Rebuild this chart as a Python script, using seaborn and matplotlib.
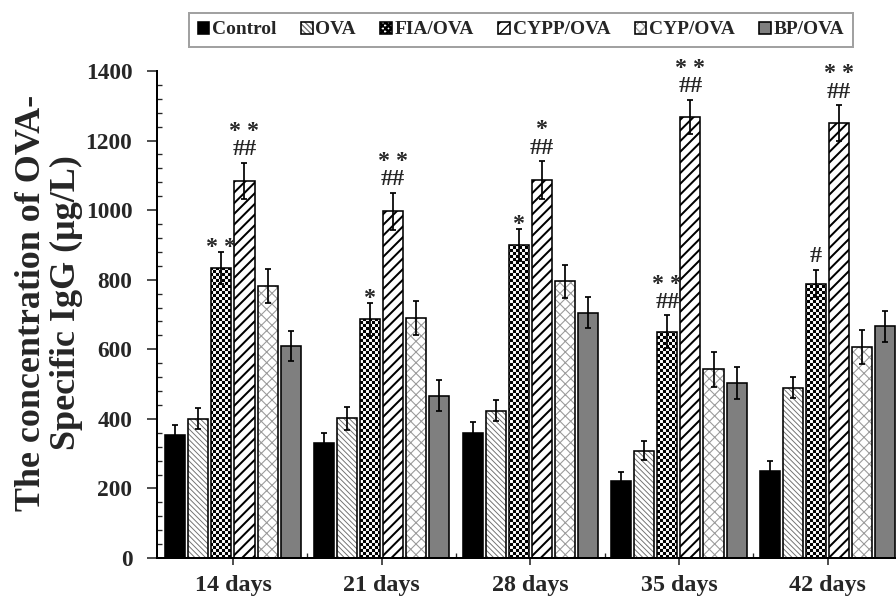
import numpy as np
import pandas as pd
import matplotlib
matplotlib.use("Agg")
import matplotlib.pyplot as plt
import matplotlib.hatch as mhatch
from matplotlib.path import Path
from matplotlib.ticker import MultipleLocator, FixedLocator
import seaborn as sns

# ---------------- data ----------------
days = ["14 days", "21 days", "28 days", "35 days", "42 days"]
groups = ["Control", "OVA", "FIA/OVA", "CYPP/OVA", "CYP/OVA", "BP/OVA"]

control = [355, 330, 360, 220, 250]
control_err = [28, 30, 30, 28, 30]
ova = [401, 402, 424, 309, 490]
ova_err = [30, 33, 30, 28, 30]
fia = [835, 686, 900, 651, 789]
fia_err = [46, 47, 45, 47, 40]
cypp = [1084, 997, 1087, 1268, 1250]
cypp_err = [52, 53, 54, 50, 52]
cyp = [782, 690, 795, 542, 607]
cyp_err = [48, 48, 48, 49, 48]
bp = [609, 467, 705, 502, 666]
bp_err = [43, 44, 45, 46, 45]

fia_marks = ["**", "*", "*", "**\n##", "#"]
cypp_marks = ["**\n##", "**\n##", "*\n##", "**\n##", "**\n##"]

values = {"Control": control, "OVA": ova, "FIA/OVA": fia,
          "CYPP/OVA": cypp, "CYP/OVA": cyp, "BP/OVA": bp}
errors = {"Control": control_err, "OVA": ova_err, "FIA/OVA": fia_err,
          "CYPP/OVA": cypp_err, "CYP/OVA": cyp_err, "BP/OVA": bp_err}
marks = {"FIA/OVA": fia_marks, "CYPP/OVA": cypp_marks}

rows = []
for g in groups:
    for d, v in zip(days, values[g]):
        rows.append({"day": d, "group": g, "value": v})
df = pd.DataFrame(rows)


# ---------------- checkerboard hatch (replaces 'o') ----------------
class CheckerHatch(mhatch.HatchPatternBase):
    def __init__(self, hatch, density):
        self.n = 8 * hatch.count('o')
        self.ncells = self.n * self.n // 2
        self.num_vertices = self.ncells * 5

    def set_vertices_and_codes(self, vertices, codes):
        n = self.n
        s = 1.0 / n
        k = 0
        for i in range(n):
            for j in range(n):
                if (i + j) % 2 == 0:
                    x0, y0 = i * s, j * s
                    vertices[k:k + 5] = [(x0, y0), (x0 + s, y0), (x0 + s, y0 + s),
                                         (x0, y0 + s), (x0, y0)]
                    codes[k:k + 5] = [Path.MOVETO, Path.LINETO, Path.LINETO,
                                      Path.LINETO, Path.CLOSEPOLY]
                    k += 5


mhatch._hatch_types = [CheckerHatch if t is mhatch.SmallCircles else t
                       for t in mhatch._hatch_types]

# ---------------- style ----------------
sns.set_style("ticks")
plt.rcParams['font.family'] = ['Liberation Serif', 'DejaVu Serif']
plt.rcParams['font.weight'] = 'bold'

styles = {
    "Control":  dict(face="black", hatch=None, hcolor="black", hlw=0.5),
    "OVA":      dict(face="white", hatch="\\\\\\\\\\\\", hcolor="#707070", hlw=0.7),
    "FIA/OVA":  dict(face="white", hatch="oooo", hcolor="black", hlw=0.05),
    "CYPP/OVA": dict(face="white", hatch="///", hcolor="black", hlw=1.5),
    "CYP/OVA":  dict(face="white", hatch="xxx", hcolor="#9a9a9a", hlw=0.8),
    "BP/OVA":   dict(face="#7f7f7f", hatch=None, hcolor="black", hlw=0.5),
}
palette = {g: styles[g]["face"] for g in groups}

DPI = 96
fig = plt.figure(figsize=(896 / DPI, 601 / DPI), dpi=DPI)
ax = fig.add_axes([157 / 896, 1 - 558 / 601, 1 - 157 / 896, (558 - 71) / 601])

sns.barplot(data=df, x="day", y="value", hue="group", order=days,
            hue_order=groups, palette=palette, width=0.93, gap=0.13,
            edgecolor="black", linewidth=1.2, errorbar=None, legend=False,
            saturation=1, ax=ax)

for g, cont in zip(groups, ax.containers):
    st = styles[g]
    xs, tops = [], []
    for bar in cont:
        bar.set_edgecolor("black")
        bar.set_linewidth(1.2)
        if st["hatch"]:
            bar.set_hatch(st["hatch"])
            bar._hatch_color = matplotlib.colors.to_rgba(st["hcolor"])
            if hasattr(bar, "set_hatch_linewidth"):
                bar.set_hatch_linewidth(st["hlw"])
        bar.set_zorder(2)
        xs.append(bar.get_x() + bar.get_width() / 2)
        tops.append(bar.get_height())
    ax.errorbar(xs, tops, yerr=errors[g], fmt="none", ecolor="black",
                elinewidth=1.3, capsize=2.6, capthick=1.3, zorder=3)
    if g in marks:
        for x, t, e, m in zip(xs, tops, errors[g], marks[g]):
            cap = t + e
            lines = [" ".join(list(ln)) if "*" in ln else ln
                     for ln in m.split("\n")]
            txt = "\n".join(lines)
            if len(lines) == 2:
                ax.annotate(txt, xy=(x, cap), xytext=(0, 2.5 * 0.75),
                            textcoords="offset points", ha="center",
                            va="bottom", multialignment="center",
                            linespacing=0.82, fontsize=18,
                            fontweight="bold", zorder=4)
            else:
                off = -1 if "*" in txt else 8
                ax.annotate(txt, xy=(x, cap), xytext=(0, off * 0.75),
                            textcoords="offset points", ha="center",
                            va="baseline", fontsize=18, fontweight="bold",
                            zorder=4)

# ---------------- axes ----------------
ax.set_ylim(0, 1400)
ax.set_xlim(-0.511, 4.46)
ax.set_yticks(np.arange(0, 1401, 200))
ax.yaxis.set_minor_locator(MultipleLocator(40))
ax.xaxis.set_minor_locator(FixedLocator([0.5, 1.5, 2.5, 3.5]))
ax.tick_params(axis="y", which="major", direction="out", length=7.5,
               width=1.2, pad=11, labelsize=17.5)
ax.tick_params(axis="y", which="minor", direction="in", length=3.5, width=1.0)
ax.tick_params(axis="x", which="major", direction="out", length=5,
               width=1.2, pad=8, labelsize=18)
ax.tick_params(axis="x", which="minor", direction="in", length=4, width=1.0)
for lab in ax.get_xticklabels() + ax.get_yticklabels():
    lab.set_fontweight("bold")

for s in ["top", "right"]:
    ax.spines[s].set_visible(False)
for s in ["left", "bottom"]:
    ax.spines[s].set_linewidth(1.5)
    ax.spines[s].set_color("black")

ax.set_xlabel("")
ax.set_ylabel("The concentration of OVA-\nSpecific IgG (\u03bcg/L)",
              fontsize=27, fontweight="bold", linespacing=1.05)
ax.yaxis.label.set_verticalalignment("center")
ax.yaxis.label.set_multialignment("center")
ax.yaxis.set_label_coords((49 - 157) / 739, (558 - 303) / 487)

leg = fig.legend(ax.containers, groups, loc="center",
                 bbox_to_anchor=(521 / 896, 1 - 30 / 601), ncol=6,
                 frameon=True, fancybox=False, handlelength=0.6,
                 handleheight=0.6, handletextpad=0.15, columnspacing=1.25,
                 borderpad=0.45, prop={"family": "Liberation Serif",
                                       "weight": "bold", "size": 14.5})
leg.get_frame().set_edgecolor("#8a8a8a")
leg.get_frame().set_linewidth(1.5)

fig.savefig("out.png", dpi=DPI)
